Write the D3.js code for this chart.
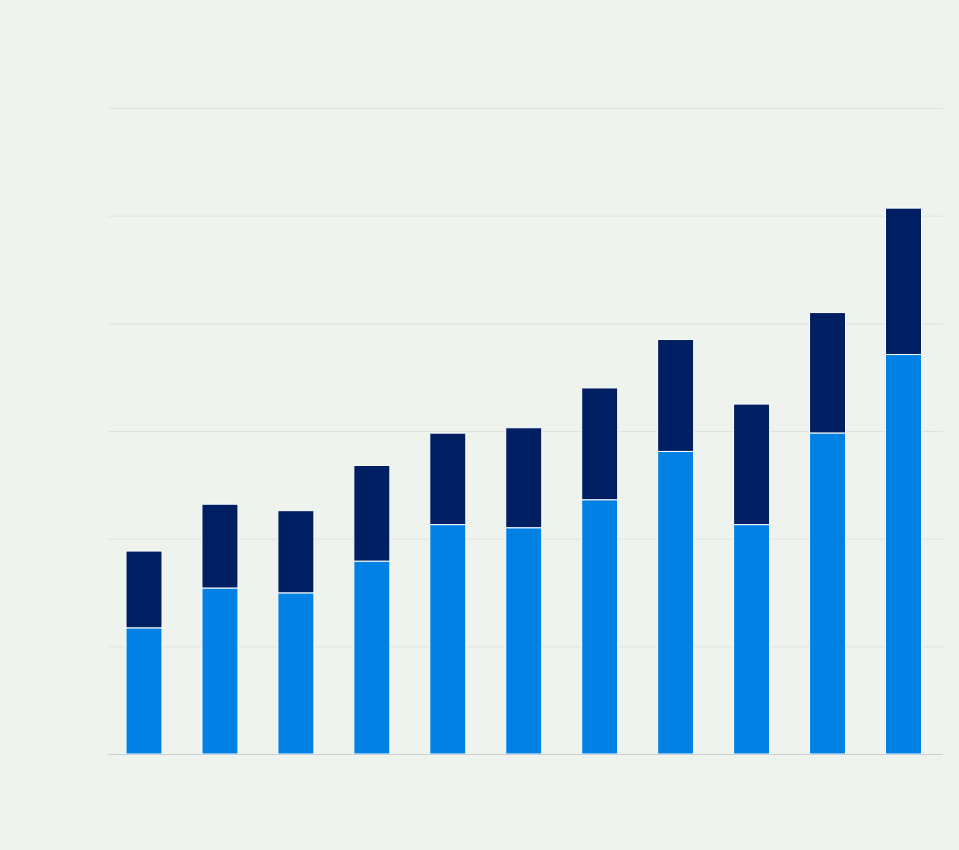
<!DOCTYPE html>
<html>
<head>
<meta charset="utf-8">
<script src="https://cdn.jsdelivr.net/npm/d3@7"></script>
<style>
  html, body { margin: 0; padding: 0; background: #eff3ee; }
  #content { width: 959px; height: 850px; }
</style>
</head>
<body>
<div id="content"></div>
<script>
// values (one gridline = 10 units)
const categories = ["1", "2", "3", "4", "5", "6", "7", "8", "9", "10", "11"];
const lowerValues = [11.7, 15.4, 14.95, 17.9, 21.3, 21.0, 23.6, 28.1, 21.3, 29.8, 37.1];
const upperValues = [7.15, 7.8, 7.65, 8.9, 8.5, 9.3, 10.4, 10.4, 11.2, 11.2, 13.6];
const yTicks = [0, 10, 20, 30, 40, 50, 60];

const svg = d3
  .select("#content")
  .append("svg")
  .attr("width", 959)
  .attr("height", 850);

svg.append("rect")
  .attr("width", 959)
  .attr("height", 850)
  .attr("fill", "#eff3ee");

const margin = { top: 108, left: 108, bottom: 96 };
const gridRight = 943;

var x = d3.scaleBand()
  .domain(categories)
  .range([margin.left, 939.5])
  .paddingInner(0.526)
  .paddingOuter(0.237);

var y = d3.scaleLinear()
  .domain([0, 60])
  .range([850 - margin.bottom, margin.top]);

// gridlines
svg.append("g")
  .attr("class", "grid")
  .attr("transform", `translate(${margin.left},0)`)
  .call(d3.axisLeft(y).tickValues(yTicks).tickSize(-(gridRight - margin.left)).tickFormat(""))
  .call(g => g.select(".domain").remove())
  .call(g => g.selectAll(".tick line")
    .attr("stroke", d => d === 0 ? "#c9cfd9" : "#dfe3e0")
    .attr("stroke-width", 1));

const data = categories.map((c, i) => ({ cat: c, lower: lowerValues[i], upper: upperValues[i] }));

const bars = svg.append("g");

bars.selectAll("rect.upper")
  .data(data)
  .enter()
  .append("rect")
  .attr("class", "upper")
  .attr("x", d => x(d.cat))
  .attr("width", x.bandwidth())
  .attr("y", d => y(d.lower + d.upper))
  .attr("height", d => y(d.lower) - y(d.lower + d.upper))
  .attr("fill", "#001e62")
  .attr("stroke", "#ffffff")
  .attr("stroke-width", 1);

bars.selectAll("rect.lower")
  .data(data)
  .enter()
  .append("rect")
  .attr("class", "lower")
  .attr("x", d => x(d.cat))
  .attr("width", x.bandwidth())
  .attr("y", d => y(d.lower))
  .attr("height", d => y(0) - y(d.lower))
  .attr("fill", "#0281e5")
  .attr("stroke", "#ffffff")
  .attr("stroke-width", 1);

// baseline on top
svg.append("line")
  .attr("x1", margin.left)
  .attr("x2", gridRight)
  .attr("y1", y(0) + 0.5)
  .attr("y2", y(0) + 0.5)
  .attr("stroke", "#c9cfd9");
</script>
</body>
</html>
